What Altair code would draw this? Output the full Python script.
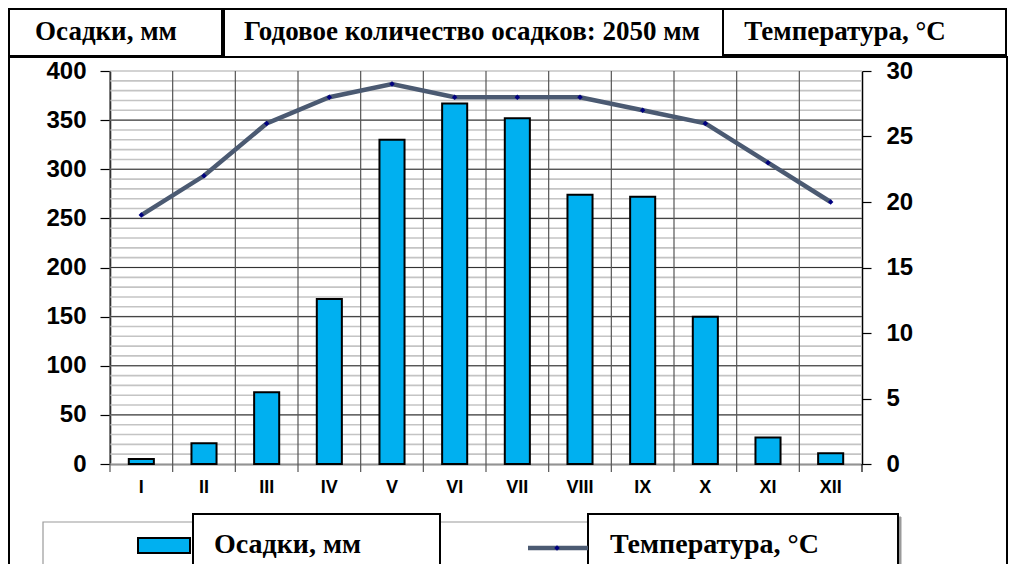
import altair as alt
import pandas as pd

months = ["I", "II", "III", "IV", "V", "VI", "VII", "VIII", "IX", "X", "XI", "XII"]
precip = [5, 21, 73, 168, 330, 367, 352, 274, 272, 150, 27, 11]
temp = [19, 22, 26, 28, 29, 28, 28, 28, 27, 26, 23, 20]
left_ticks = [0, 50, 100, 150, 200, 250, 300, 350, 400]
right_ticks = [0, 5, 10, 15, 20, 25, 30]
minor_levels = list(range(0, 401, 10))
major_levels = [50, 100, 150, 200, 250, 300, 350]

title_left = "Осадки, мм"
title_mid = "Годовое количество осадков: 2050 мм"
title_right = "Температура, °C"

df = pd.DataFrame({"month": months, "precip": precip, "temp": temp})
minor = pd.DataFrame({"level": minor_levels})
major = pd.DataFrame({"level": major_levels})
mdf = pd.DataFrame({"month": months})
one = pd.DataFrame({"k": [0]})

W, H = 752, 393
SANS = "Liberation Sans"
SERIF = "Liberation Serif"

xscale = alt.Scale(domain=months, paddingInner=0, paddingOuter=0)
xaxis = alt.Axis(title=None, labelAngle=0, labelFont=SANS, labelFontWeight="bold",
                 labelFontSize=18, labelColor="black", labelPadding=14, ticks=False,
                 domainColor="black", domainWidth=1.5, grid=False)

left_axis = alt.Axis(title=None, values=left_ticks, labelFont=SANS, labelFontSize=24,
                     labelFontWeight="bold", labelColor="black", tickSize=10,
                     tickColor="black", tickWidth=1.2, labelPadding=14,
                     domainColor="black", domainWidth=1.5, grid=False)
lscale = alt.Scale(domain=[0, 400], nice=False)

right_axis = alt.Axis(title=None, orient="right", values=right_ticks, labelFont=SANS,
                      labelFontSize=24, labelFontWeight="bold", labelColor="black",
                      tickSize=9, tickColor="black", tickWidth=1.2, labelPadding=15,
                      domainColor="black", domainWidth=1.5, grid=False)
rscale = alt.Scale(domain=[0, 30], nice=False)

minor_rules = alt.Chart(minor).mark_rule(color="#c4c4c4", strokeWidth=1.6).encode(
    y=alt.Y("level:Q", scale=lscale, axis=left_axis)
)
major_rules = alt.Chart(major).mark_rule(color="#333333", strokeWidth=1).encode(
    y=alt.Y("level:Q", scale=lscale, axis=left_axis)
)
vert_rules = alt.Chart(mdf).mark_rule(color="#555555", strokeWidth=1.2).encode(
    x=alt.X("month:N", sort=months, scale=xscale, axis=xaxis, bandPosition=0),
    y=alt.value(0), y2=alt.value(H + 8)
)
end_tick = alt.Chart(one).mark_rule(color="black", strokeWidth=1.2).encode(
    x=alt.value(W), y=alt.value(H), y2=alt.value(H + 8)
)
bars = alt.Chart(df).mark_bar(color="#00b0f0", stroke="black", strokeWidth=2,
                              width=alt.RelativeBandSize(0.4)).encode(
    x=alt.X("month:N", sort=months, scale=xscale, axis=xaxis),
    y=alt.Y("precip:Q", scale=lscale, axis=left_axis)
)
left_group = alt.layer(minor_rules, major_rules, vert_rules, bars)

line = alt.Chart(df).mark_line(color="#4b5a72", strokeWidth=4.5).encode(
    x=alt.X("month:N", sort=months, scale=xscale, axis=xaxis),
    y=alt.Y("temp:Q", scale=rscale, axis=right_axis)
)
pts = alt.Chart(df).mark_point(shape="diamond", filled=True, color="#000080",
                               size=30, opacity=1).encode(
    x=alt.X("month:N", sort=months, scale=xscale, axis=xaxis),
    y=alt.Y("temp:Q", scale=rscale, axis=right_axis)
)
right_group = alt.layer(line, pts)


def box(x1, x2, y1, y2, fill="white", stroke="black", sw=2):
    kw = dict(stroke=stroke, strokeWidth=sw)
    if fill is None:
        kw["fillOpacity"] = 0
        kw["fill"] = "white"
    else:
        kw["fill"] = fill
    return alt.Chart(one).mark_rect(**kw).encode(
        x=alt.value(x1), x2=alt.value(x2), y=alt.value(y1), y2=alt.value(y2)
    )


def label(txt, x, y, size=27, align="center"):
    return alt.Chart(one).mark_text(font=SERIF, fontWeight="bold", fontSize=size,
                                    color="black", align=align, baseline="middle").encode(
        x=alt.value(x), y=alt.value(y), text=alt.value(txt)
    )


frame = box(-101, 897, -14, 500, fill=None, sw=2)
hdr1 = box(-101, 112, -62, -15)
hdr2 = box(114, 615, -62, -14)
hdr3 = box(613, 896, -62, -16)
t1 = label(title_left, -4, -39)
t2 = label(title_mid, 362, -39)
t3 = label(title_right, 735, -39)

leg_outer = box(-67, 790, 451, 500, fill="white", stroke="#9a9a9a", sw=1.2)
leg_box1 = box(83, 330, 443, 500)
leg_shadow2 = box(481, 791, 446, 500, fill="#9a9a9a", stroke="#9a9a9a", sw=1)
leg_box2 = box(478, 788, 443, 497)
leg_t1 = label(title_left, 104, 474, size=28, align="left")
leg_t2 = label(title_right, 500, 474, size=28, align="left")
sw_bar = alt.Chart(one).mark_rect(fill="#00b0f0", stroke="black", strokeWidth=2).encode(
    x=alt.value(28), x2=alt.value(80), y=alt.value(467), y2=alt.value(482)
)
sw_line = alt.Chart(one).mark_rule(color="#4b5a72", strokeWidth=4.5).encode(
    x=alt.value(418), x2=alt.value(478), y=alt.value(477)
)
sw_pt = alt.Chart(one).mark_point(shape="diamond", filled=True, color="#000080",
                                  size=30, opacity=1).encode(
    x=alt.value(447), y=alt.value(477)
)

chart = alt.layer(
    frame, hdr1, hdr2, hdr3, t1, t2, t3,
    left_group, right_group, end_tick,
    leg_outer, leg_box1, leg_shadow2, leg_box2, leg_t1, leg_t2, sw_bar, sw_line, sw_pt
).resolve_scale(y="independent").properties(
    width=W, height=H,
    autosize=alt.AutoSizeParams(type="none"),
    padding={"left": 102, "top": 63, "right": 147, "bottom": 100},
    background="white"
).configure_view(strokeWidth=0)

chart.save("out.html", embed_options={"renderer": "svg", "actions": False})
